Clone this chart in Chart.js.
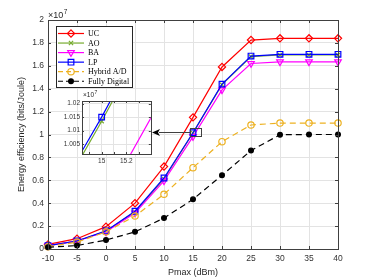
<!DOCTYPE html>
<html lang="en">
<head>
<meta charset="UTF-8" />
<title>Energy efficiency vs Pmax</title>
<script src="https://cdn.jsdelivr.net/npm/chart.js"></script>
<style>
  body { margin: 0; background: #fff; }
  #wrap { position: relative; width: 374px; height: 280px; }
  #mainChart { position: absolute; left: 0; top: 0; }
  #zoomChart { position: absolute; left: 56px; top: 88px; }
</style>
</head>
<body>
<div id="wrap">
  <canvas id="mainChart" width="374" height="280"></canvas>
  <canvas id="zoomChart" width="100" height="80"></canvas>
</div>
<script>
// values in units of 1e7 bits/Joule
const pmax = [-10, -5, 0, 5, 10, 15, 20, 25, 30, 35, 40];
const ucVals = [0.04, 0.09, 0.195, 0.40, 0.72, 1.15, 1.59, 1.825, 1.84, 1.84, 1.84];
const aoVals = [0.03, 0.07, 0.155, 0.325, 0.612, 1.0135, 1.435, 1.68, 1.695, 1.695, 1.695];
const baVals = [0.03, 0.07, 0.15, 0.315, 0.595, 0.982, 1.39, 1.62, 1.635, 1.635, 1.635];
const lpVals = [0.03, 0.07, 0.158, 0.33, 0.62, 1.015, 1.44, 1.685, 1.70, 1.70, 1.70];
const hybridVals = [0.02, 0.06, 0.15, 0.288, 0.478, 0.71, 0.937, 1.083, 1.10, 1.10, 1.10];
const digitalVals = [0.015, 0.03, 0.078, 0.15, 0.27, 0.434, 0.644, 0.86, 0.998, 1.0, 1.0];

const seriesNames = ['UC', 'AO', 'BA', 'LP', 'Hybrid A/D', 'Fully Digital'];
const yTicks = [0, 0.2, 0.4, 0.6, 0.8, 1, 1.2, 1.4, 1.6, 1.8, 2];
const zoomXTicks = [14.9, 15, 15.1, 15.2, 15.3];
const zoomYTicks = [1.005, 1.01, 1.015, 1.02];

const sans = '"Liberation Sans", Arial, sans-serif';
const serif = '"Liberation Serif", "Times New Roman", serif';
Chart.defaults.font.family = sans;

// marker / line styles per series
const styles = [
  { color: '#ff0000', marker: 'rectRot', r: 3.6, fill: false, dash: [] },
  { color: '#77ac30', marker: 'crossRot', r: 3, fill: false, dash: [] },
  { color: '#ff00ff', marker: 'triangle', r: 3.8, rot: 180, fill: false, dash: [] },
  { color: '#0000ff', marker: 'rect', r: 4, fill: false, dash: [] },
  { color: '#edb120', marker: 'circle', r: 3.2, fill: false, dash: [6, 4] },
  { color: '#000000', marker: 'circle', r: 2.4, fill: true, dash: [6, 4] }
];
const allVals = [ucVals, aoVals, baVals, lpVals, hybridVals, digitalVals];

function makeSets(clip) {
  return allVals.map((vals, i) => {
    const s = styles[i];
    return {
      label: seriesNames[i],
      data: pmax.map((p, k) => ({ x: p, y: vals[k] })),
      borderColor: s.color,
      backgroundColor: s.fill ? s.color : '#ffffff',
      borderWidth: 1.2,
      borderDash: s.dash,
      pointStyle: s.marker,
      pointRotation: s.rot || 0,
      pointRadius: s.r,
      pointBorderWidth: 1.2,
      pointBackgroundColor: s.fill ? s.color : 'rgba(0,0,0,0)',
      tension: 0,
      clip: clip,
      order: 6 - i
    };
  });
}

// small marker painter for the legend
function drawMarker(ctx, s, x, y) {
  const r = s.r;
  ctx.save();
  ctx.setLineDash([]);
  ctx.strokeStyle = s.color;
  ctx.fillStyle = s.color;
  ctx.lineWidth = 1.2;
  ctx.beginPath();
  if (s.marker === 'rectRot') {
    ctx.moveTo(x, y - r); ctx.lineTo(x + r, y); ctx.lineTo(x, y + r); ctx.lineTo(x - r, y); ctx.closePath();
  } else if (s.marker === 'crossRot') {
    const d = r * 0.707;
    ctx.moveTo(x - d, y - d); ctx.lineTo(x + d, y + d); ctx.moveTo(x + d, y - d); ctx.lineTo(x - d, y + d);
  } else if (s.marker === 'triangle') {
    ctx.moveTo(x, y + r); ctx.lineTo(x - r * 0.866, y - r / 2); ctx.lineTo(x + r * 0.866, y - r / 2); ctx.closePath();
  } else if (s.marker === 'rect') {
    const h = r * 0.707;
    ctx.rect(x - h, y - h, 2 * h, 2 * h);
  } else {
    ctx.arc(x, y, r, 0, Math.PI * 2);
  }
  if (s.fill) ctx.fill();
  ctx.stroke();
  ctx.restore();
}

function inwardTicks(ctx, a, xs, ys, len) {
  ctx.save();
  ctx.strokeStyle = '#404040';
  ctx.lineWidth = 1;
  ctx.beginPath();
  xs.ticks.forEach(t => {
    const px = Math.round(xs.getPixelForValue(t.value)) + 0.5;
    ctx.moveTo(px, a.bottom); ctx.lineTo(px, a.bottom - len);
    ctx.moveTo(px, a.top); ctx.lineTo(px, a.top + len);
  });
  ys.ticks.forEach(t => {
    const py = Math.round(ys.getPixelForValue(t.value)) + 0.5;
    ctx.moveTo(a.left, py); ctx.lineTo(a.left + len, py);
    ctx.moveTo(a.right, py); ctx.lineTo(a.right - len, py);
  });
  ctx.stroke();
  ctx.strokeRect(Math.round(a.left) + 0.5, Math.round(a.top) + 0.5,
    Math.round(a.right - a.left), Math.round(a.bottom - a.top));
  ctx.restore();
}

function exponentLabel(ctx, x, y, big, small) {
  ctx.save();
  ctx.fillStyle = '#262626';
  ctx.textBaseline = 'alphabetic';
  ctx.textAlign = 'left';
  ctx.font = big + 'px ' + sans;
  ctx.fillText('\u00d710', x, y);
  const w = ctx.measureText('\u00d710').width;
  ctx.font = small + 'px ' + sans;
  ctx.fillText('7', x + w + 0.5, y - big * 0.45);
  ctx.restore();
}

const mainDecor = {
  id: 'mainDecor',
  afterDatasetsDraw(chart) {
    const { ctx, chartArea: a, scales: { x, y } } = chart;
    inwardTicks(ctx, a, x, y, 3);

    // zoom box around Pmax = 15 and arrow to the inset
    const bx0 = x.getPixelForValue(14.5), bx1 = x.getPixelForValue(16.4);
    const by0 = y.getPixelForValue(1.054), by1 = y.getPixelForValue(0.987);
    ctx.save();
    ctx.strokeStyle = '#404040';
    ctx.lineWidth = 1;
    ctx.strokeRect(Math.round(bx0) + 0.5, Math.round(by0) + 0.5, Math.round(bx1 - bx0), Math.round(by1 - by0));
    const ay = Math.round((by0 + by1) / 2) + 0.5;
    const tipX = 152;
    ctx.beginPath();
    ctx.moveTo(Math.round(bx0), ay);
    ctx.lineTo(tipX + 7, ay);
    ctx.stroke();
    ctx.fillStyle = '#000';
    ctx.beginPath();
    ctx.moveTo(tipX, ay);
    ctx.lineTo(tipX + 8, ay - 3.5);
    ctx.lineTo(tipX + 6, ay);
    ctx.lineTo(tipX + 8, ay + 3.5);
    ctx.closePath();
    ctx.fill();
    ctx.restore();

    // legend
    const lx = 56.5, ly = 26.5, lw = 76, lh = 61;
    ctx.save();
    ctx.fillStyle = '#fff';
    ctx.fillRect(lx, ly, lw, lh);
    ctx.strokeStyle = '#262626';
    ctx.lineWidth = 1;
    ctx.strokeRect(lx, ly, lw, lh);
    ctx.font = '8px ' + serif;
    ctx.textBaseline = 'middle';
    ctx.textAlign = 'left';
    seriesNames.forEach((name, i) => {
      const s = styles[i];
      const ry = 33.5 + i * 9.55;
      ctx.save();
      ctx.strokeStyle = s.color;
      ctx.lineWidth = 1.2;
      ctx.setLineDash(s.dash.length ? [5, 3] : []);
      ctx.beginPath();
      ctx.moveTo(58, ry); ctx.lineTo(84, ry);
      ctx.stroke();
      ctx.restore();
      drawMarker(ctx, s, 71, ry);
      ctx.fillStyle = '#000';
      ctx.fillText(name, 88, ry + 0.5);
    });
    ctx.restore();

    exponentLabel(ctx, 48, 18, 9, 6.5);
  }
};

new Chart(document.getElementById('mainChart'), {
  type: 'line',
  data: { datasets: makeSets(false) },
  plugins: [mainDecor],
  options: {
    responsive: false,
    animation: false,
    events: [],
    layout: { padding: { left: 0, top: 20, right: 36, bottom: 0 } },
    plugins: { legend: { display: false }, tooltip: { enabled: false } },
    scales: {
      x: {
        type: 'linear',
        min: -10,
        max: 40,
        afterBuildTicks: s => { s.ticks = pmax.map(v => ({ value: v })); },
        afterFit: s => { s.height = 31; },
        grid: { color: '#e3e3e3', drawTicks: false },
        border: { display: false },
        ticks: { color: '#333', font: { size: 8.5 }, padding: 5, maxRotation: 0 },
        title: { display: true, text: 'Pmax (dBm)', color: '#262626', font: { size: 9 }, padding: { top: 0, bottom: 2 } }
      },
      y: {
        min: 0,
        max: 2,
        afterBuildTicks: s => { s.ticks = yTicks.map(v => ({ value: v })); },
        afterFit: s => { s.width = 48; },
        grid: { color: '#e3e3e3', drawTicks: false },
        border: { display: false },
        ticks: { color: '#333', font: { size: 8.5 }, padding: 4, callback: v => String(Math.round(v * 10) / 10) },
        title: { display: true, text: 'Energy efficiency (bits/Joule)', color: '#262626', font: { size: 9 }, padding: { top: 16.5, bottom: 0 } }
      }
    }
  }
});

const zoomDecor = {
  id: 'zoomDecor',
  beforeDraw(chart) {
    const { ctx, chartArea: a } = chart;
    ctx.save();
    ctx.fillStyle = '#fff';
    ctx.fillRect(a.left, a.top, a.right - a.left, a.bottom - a.top);
    ctx.restore();
  },
  afterDatasetsDraw(chart) {
    const { ctx, chartArea: a, scales: { x, y } } = chart;
    inwardTicks(ctx, a, x, y, 2);
    exponentLabel(ctx, 27, 9, 6.5, 5);
  }
};

new Chart(document.getElementById('zoomChart'), {
  type: 'line',
  data: { datasets: makeSets(0) },
  plugins: [zoomDecor],
  options: {
    responsive: false,
    animation: false,
    events: [],
    layout: { padding: { left: 0, top: 13, right: 5, bottom: 0 } },
    plugins: { legend: { display: false }, tooltip: { enabled: false } },
    scales: {
      x: {
        type: 'linear',
        min: 14.84,
        max: 15.4,
        afterBuildTicks: s => { s.ticks = zoomXTicks.map(v => ({ value: v })); },
        afterFit: s => { s.height = 14; },
        grid: { color: '#e3e3e3', drawTicks: false },
        border: { display: false },
        ticks: {
          color: '#333', font: { size: 6.5 }, padding: 3, maxRotation: 0, autoSkip: false,
          callback: v => (Math.abs(v - 15) < 1e-6 ? '15' : Math.abs(v - 15.2) < 1e-6 ? '15.2' : '')
        }
      },
      y: {
        min: 1.0013,
        max: 1.021,
        afterBuildTicks: s => { s.ticks = zoomYTicks.map(v => ({ value: v })); },
        afterFit: s => { s.width = 26; },
        grid: { color: '#e3e3e3', drawTicks: false },
        border: { display: false },
        ticks: { color: '#333', font: { size: 6.5 }, padding: 2, autoSkip: false, callback: v => String(+v.toFixed(3)) }
      }
    }
  }
});
</script>
</body>
</html>
